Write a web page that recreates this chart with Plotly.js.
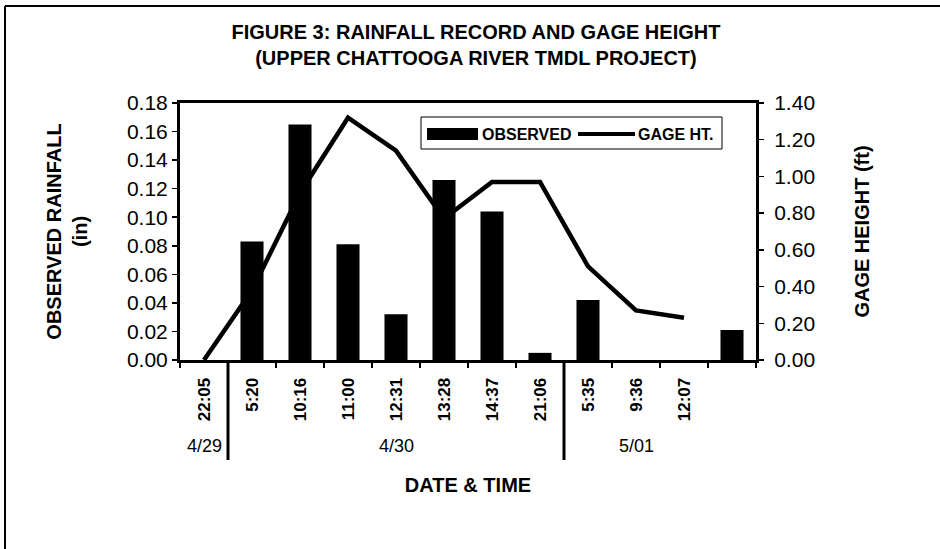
<!DOCTYPE html>
<html>
<head>
<meta charset="utf-8">
<script src="https://cdn.plot.ly/plotly-3.0.1.min.js"></script>
<style>
  html, body { margin: 0; padding: 0; background: #fff; }
  #chart { width: 940px; height: 549px; }
</style>
</head>
<body>
<div id="chart"></div>
<script>
// ---- data ----
const categories = ['22:05', '5:20', '10:16', '11:00', '12:31', '13:28', '14:37', '21:06', '5:35', '9:36', '12:07', ' '];
const rainfall = [0, 0.083, 0.165, 0.081, 0.032, 0.126, 0.104, 0.005, 0.042, 0, 0, 0.021];
const gageHeight = [0.00, 0.38, 0.91, 1.32, 1.14, 0.77, 0.97, 0.97, 0.51, 0.27, 0.23, null];
const dateLabels = ['4/29', '4/30', '5/01'];
const dateFirstIdx = [0, 1, 8];
const dateLastIdx = [0, 7, 10];
const dateBreaks = [0.5, 7.5];
const leftTicks = [0, 0.02, 0.04, 0.06, 0.08, 0.10, 0.12, 0.14, 0.16, 0.18];
const rightTicks = [0, 0.2, 0.4, 0.6, 0.8, 1.0, 1.2, 1.4];

// ---- geometry helpers (pixel -> paper) ----
const W = 940, H = 549;
const M = { l: 180, r: 184, t: 103, b: 189 };
const PW = W - M.l - M.r, PH = H - M.t - M.b;
const px = x => (x - M.l) / PW;
const py = y => (H - M.b - y) / PH;

const FONT = 'Liberation Sans, Arial, Helvetica, sans-serif';

const traces = [
  {
    type: 'bar',
    name: 'OBSERVED',
    x: categories,
    y: rainfall,
    marker: { color: '#000' },
    width: 0.48,
    yaxis: 'y',
    hoverinfo: 'x+y'
  },
  {
    type: 'scatter',
    mode: 'lines',
    name: 'GAGE HT.',
    x: categories,
    y: gageHeight,
    line: { color: '#000', width: 4.5 },
    yaxis: 'y2',
    connectgaps: false
  }
];

const shapes = [
  // legend box
  { type: 'rect', xref: 'paper', yref: 'paper', x0: px(421), x1: px(722), y0: py(149), y1: py(117),
    line: { color: '#000', width: 1 }, fillcolor: '#fff', layer: 'above' },
  { type: 'rect', xref: 'paper', yref: 'paper', x0: px(427), x1: px(478), y0: py(140), y1: py(128),
    line: { width: 0 }, fillcolor: '#000', layer: 'above' },
  { type: 'line', xref: 'paper', yref: 'paper', x0: px(578), x1: px(635), y0: py(134), y1: py(134),
    line: { color: '#000', width: 4 }, layer: 'above' },
  // page border (top, left)
  { type: 'line', xref: 'paper', yref: 'paper', x0: px(5), x1: px(940), y0: py(6), y1: py(6),
    line: { color: '#000', width: 2 } },
  { type: 'line', xref: 'paper', yref: 'paper', x0: px(5), x1: px(5), y0: py(6), y1: py(549),
    line: { color: '#000', width: 2 } }
];
dateBreaks.forEach(b => {
  shapes.push({ type: 'line', xref: 'x', yref: 'paper', x0: b, x1: b, y0: 0, y1: py(460),
    line: { color: '#000', width: 3 } });
});

const annotations = [
  { xref: 'paper', yref: 'paper', x: px(480), y: py(134), xanchor: 'left', yanchor: 'middle',
    text: 'OBSERVED', showarrow: false, font: { family: FONT, size: 16, weight: 'bold', color: '#000' } },
  { xref: 'paper', yref: 'paper', x: px(636), y: py(134), xanchor: 'left', yanchor: 'middle',
    text: 'GAGE HT.', showarrow: false, font: { family: FONT, size: 16, weight: 'bold', color: '#000' } }
];
dateLabels.forEach((d, i) => {
  annotations.push({ xref: 'x', yref: 'paper', x: (dateFirstIdx[i] + dateLastIdx[i]) / 2, y: py(446),
    xanchor: 'center', yanchor: 'middle', text: d, showarrow: false,
    font: { family: FONT, size: 18, color: '#000' } });
});

const layout = {
  width: W, height: H,
  margin: M,
  paper_bgcolor: '#fff', plot_bgcolor: '#fff',
  font: { family: FONT, color: '#000' },
  showlegend: false,
  bargap: 0.52,
  title: {
    text: 'FIGURE 3: RAINFALL RECORD AND GAGE HEIGHT<br>(UPPER CHATTOOGA RIVER TMDL PROJECT)',
    font: { family: FONT, size: 20, weight: 'bold', color: '#000' },
    x: 483 / W, xanchor: 'center', xref: 'paper',
    y: 1 - 39 / H, yanchor: 'top', yref: 'container'
  },
  xaxis: {
    type: 'category',
    categoryorder: 'array',
    categoryarray: categories,
    range: [-0.5, categories.length - 0.5],
    tickson: 'boundaries',
    ticks: 'outside', ticklen: 5, tickwidth: 1.5, tickcolor: '#000',
    tickangle: -90,
    tickfont: { family: FONT, size: 17, weight: 'bold', color: '#000' },
    ticklabelstandoff: 8,
    showline: true, mirror: true, linecolor: '#000', linewidth: 3,
    showgrid: false, zeroline: false,
    title: { text: 'DATE &amp; TIME', standoff: 58,
      font: { family: FONT, size: 20, weight: 'bold', color: '#000' } }
  },
  yaxis: {
    range: [0, 0.18],
    tickvals: leftTicks,
    tickformat: '.2f',
    ticks: 'outside', ticklen: 5, tickwidth: 1.5, tickcolor: '#000',
    tickfont: { family: FONT, size: 21, color: '#000' },
    showline: true, linecolor: '#000', linewidth: 3,
    showgrid: false, zeroline: false,
    title: { text: 'OBSERVED RAINFALL<br>(in)', standoff: 34,
      font: { family: FONT, size: 20, weight: 'bold', color: '#000' } }
  },
  yaxis2: {
    overlaying: 'y', side: 'right',
    range: [0, 1.4],
    tickvals: rightTicks,
    tickformat: '.2f',
    ticks: 'outside', ticklen: 5, tickwidth: 1.5, tickcolor: '#000',
    tickfont: { family: FONT, size: 21, color: '#000' },
    ticklabelstandoff: 6,
    showline: true, linecolor: '#000', linewidth: 3,
    showgrid: false, zeroline: false,
    title: { text: 'GAGE HEIGHT (ft)', standoff: 41,
      font: { family: FONT, size: 20, weight: 'bold', color: '#000' } }
  },
  shapes: shapes,
  annotations: annotations
};

Plotly.newPlot('chart', traces, layout, { displayModeBar: false, staticPlot: true });
</script>
</body>
</html>
